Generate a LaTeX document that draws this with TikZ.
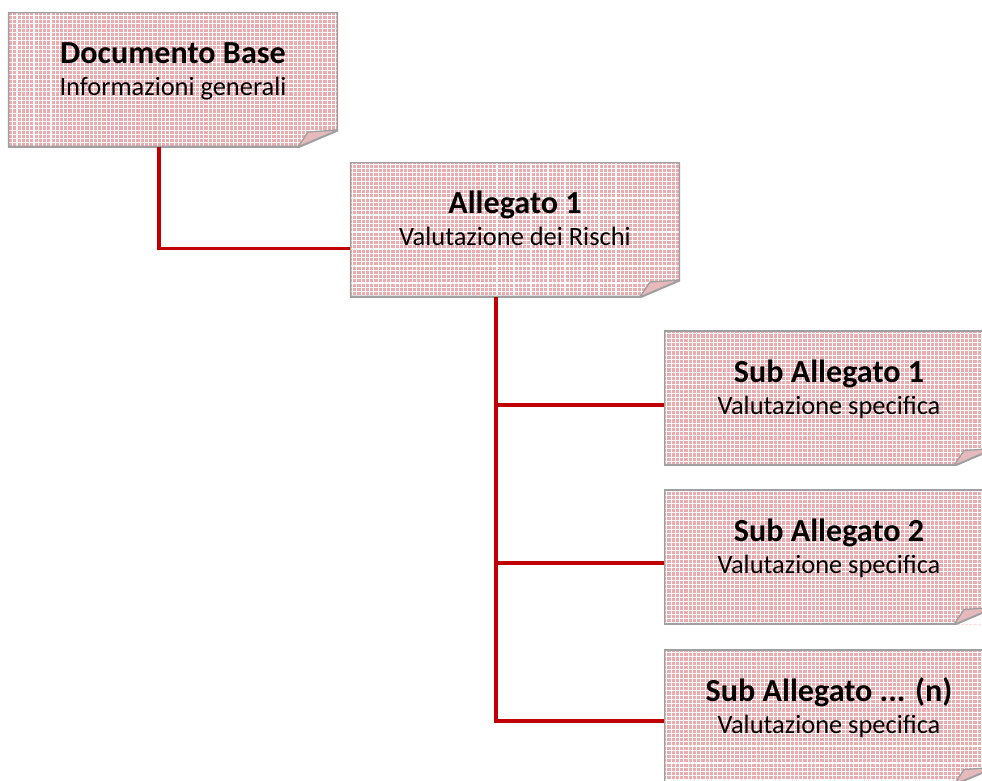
\documentclass[tikz,border=0pt]{standalone}
\usepackage{fontspec}
\setmainfont{Carlito}
\usepackage{xcolor}
\definecolor{paperpink}{RGB}{234,172,174}
\definecolor{flappink}{RGB}{230,186,188}
\definecolor{paperedge}{RGB}{160,160,160}
\definecolor{linkred}{HTML}{C00000}
\usetikzlibrary{calc,patterns.meta}
\tikzset{
  notepaper/.style = {rectangle, minimum width = 248.6pt, minimum height = 101.7pt,
    inner sep = 0pt, fill = paperpink, path picture = {
      \coordinate (nw) at (path picture bounding box.north west);
      \coordinate (ne) at (path picture bounding box.north east);
      \coordinate (sw) at (path picture bounding box.south west);
      \coordinate (se) at (path picture bounding box.south east);
      \fill[pattern = {Lines[angle = 0, distance = 3.2pt, line width = 0.8pt]},
        pattern color = white] (sw) rectangle (ne);
      \fill[pattern = {Lines[angle = 90, distance = 3.2pt, line width = 0.8pt]},
        pattern color = white] (sw) rectangle (ne);
      \fill[white] ($(se)+(-40,0)$) -- (se) -- ($(se)+(0,-17)$) -- cycle;
      \draw[paperedge, line width = 2pt] (nw) -- (ne) -- ($(se)+(0,-17)$)
        -- ($(se)+(-40,0)$) -- (sw) -- cycle;
      \filldraw[draw = paperedge, fill = flappink, line width = 1pt]
        ($(se)+(-40,0)$) -- ($(se)+(-30,-15)$) -- ($(se)+(0,-17)$) -- cycle;
    }},
  titletext/.style = {font = \fontsize{24.2}{29}\selectfont\bfseries,
    anchor = base, inner sep = 0pt},
  subtext/.style = {font = \fontsize{19.9}{24}\selectfont, anchor = base,
    inner sep = 0pt},
  link/.style = {draw = linkred, line width = 2.3pt}
}
\newcommand{\notebox}[4]{%
% name, centre, title, subtitle
  \node[notepaper] (#1) at (#2) {};
  \node[titletext] (#1-title) at ($(#1.center)+(0,-16)$) {#3};
  \node[subtext] (#1-sub) at ($(#1.center)+(0,16)$) {#4};
}
\begin{document}
\begin{tikzpicture}[x = 0.7533pt, y = -0.7533pt]
  \useasboundingbox (0,0) rectangle (982,780);
  \notebox{doc}{173,79.5}{Documento Base}{Informazioni generali}
  \notebox{all}{515,229.5}{Allegato 1}{Valutazione dei Rischi}
  \notebox{sub1}{829,398}{Sub Allegato 1}{Valutazione specifica}
  \notebox{sub2}{829,557}{Sub Allegato 2}{Valutazione specifica}
  \notebox{sub3}{829,717}{Sub Allegato ... (n)}{Valutazione specifica}
  % connectors
  \coordinate (docdrop) at ($(doc.south)+(-14,0)$);
  \coordinate (alljoin) at ($(all.west)+(0,19)$);
  \draw[link] (docdrop) |- (alljoin);
  \coordinate (trunk) at ($(all.south)+(-19,0)$);
  \coordinate (b1) at ($(sub1.west)+(0,7)$);
  \coordinate (b2) at ($(sub2.west)+(0,6)$);
  \coordinate (b3) at ($(sub3.west)+(0,4)$);
  \draw[link] (trunk) |- (b3);
  \draw[link] (trunk |- b1) -- (b1);
  \draw[link] (trunk |- b2) -- (b2);
\end{tikzpicture}
\end{document}
